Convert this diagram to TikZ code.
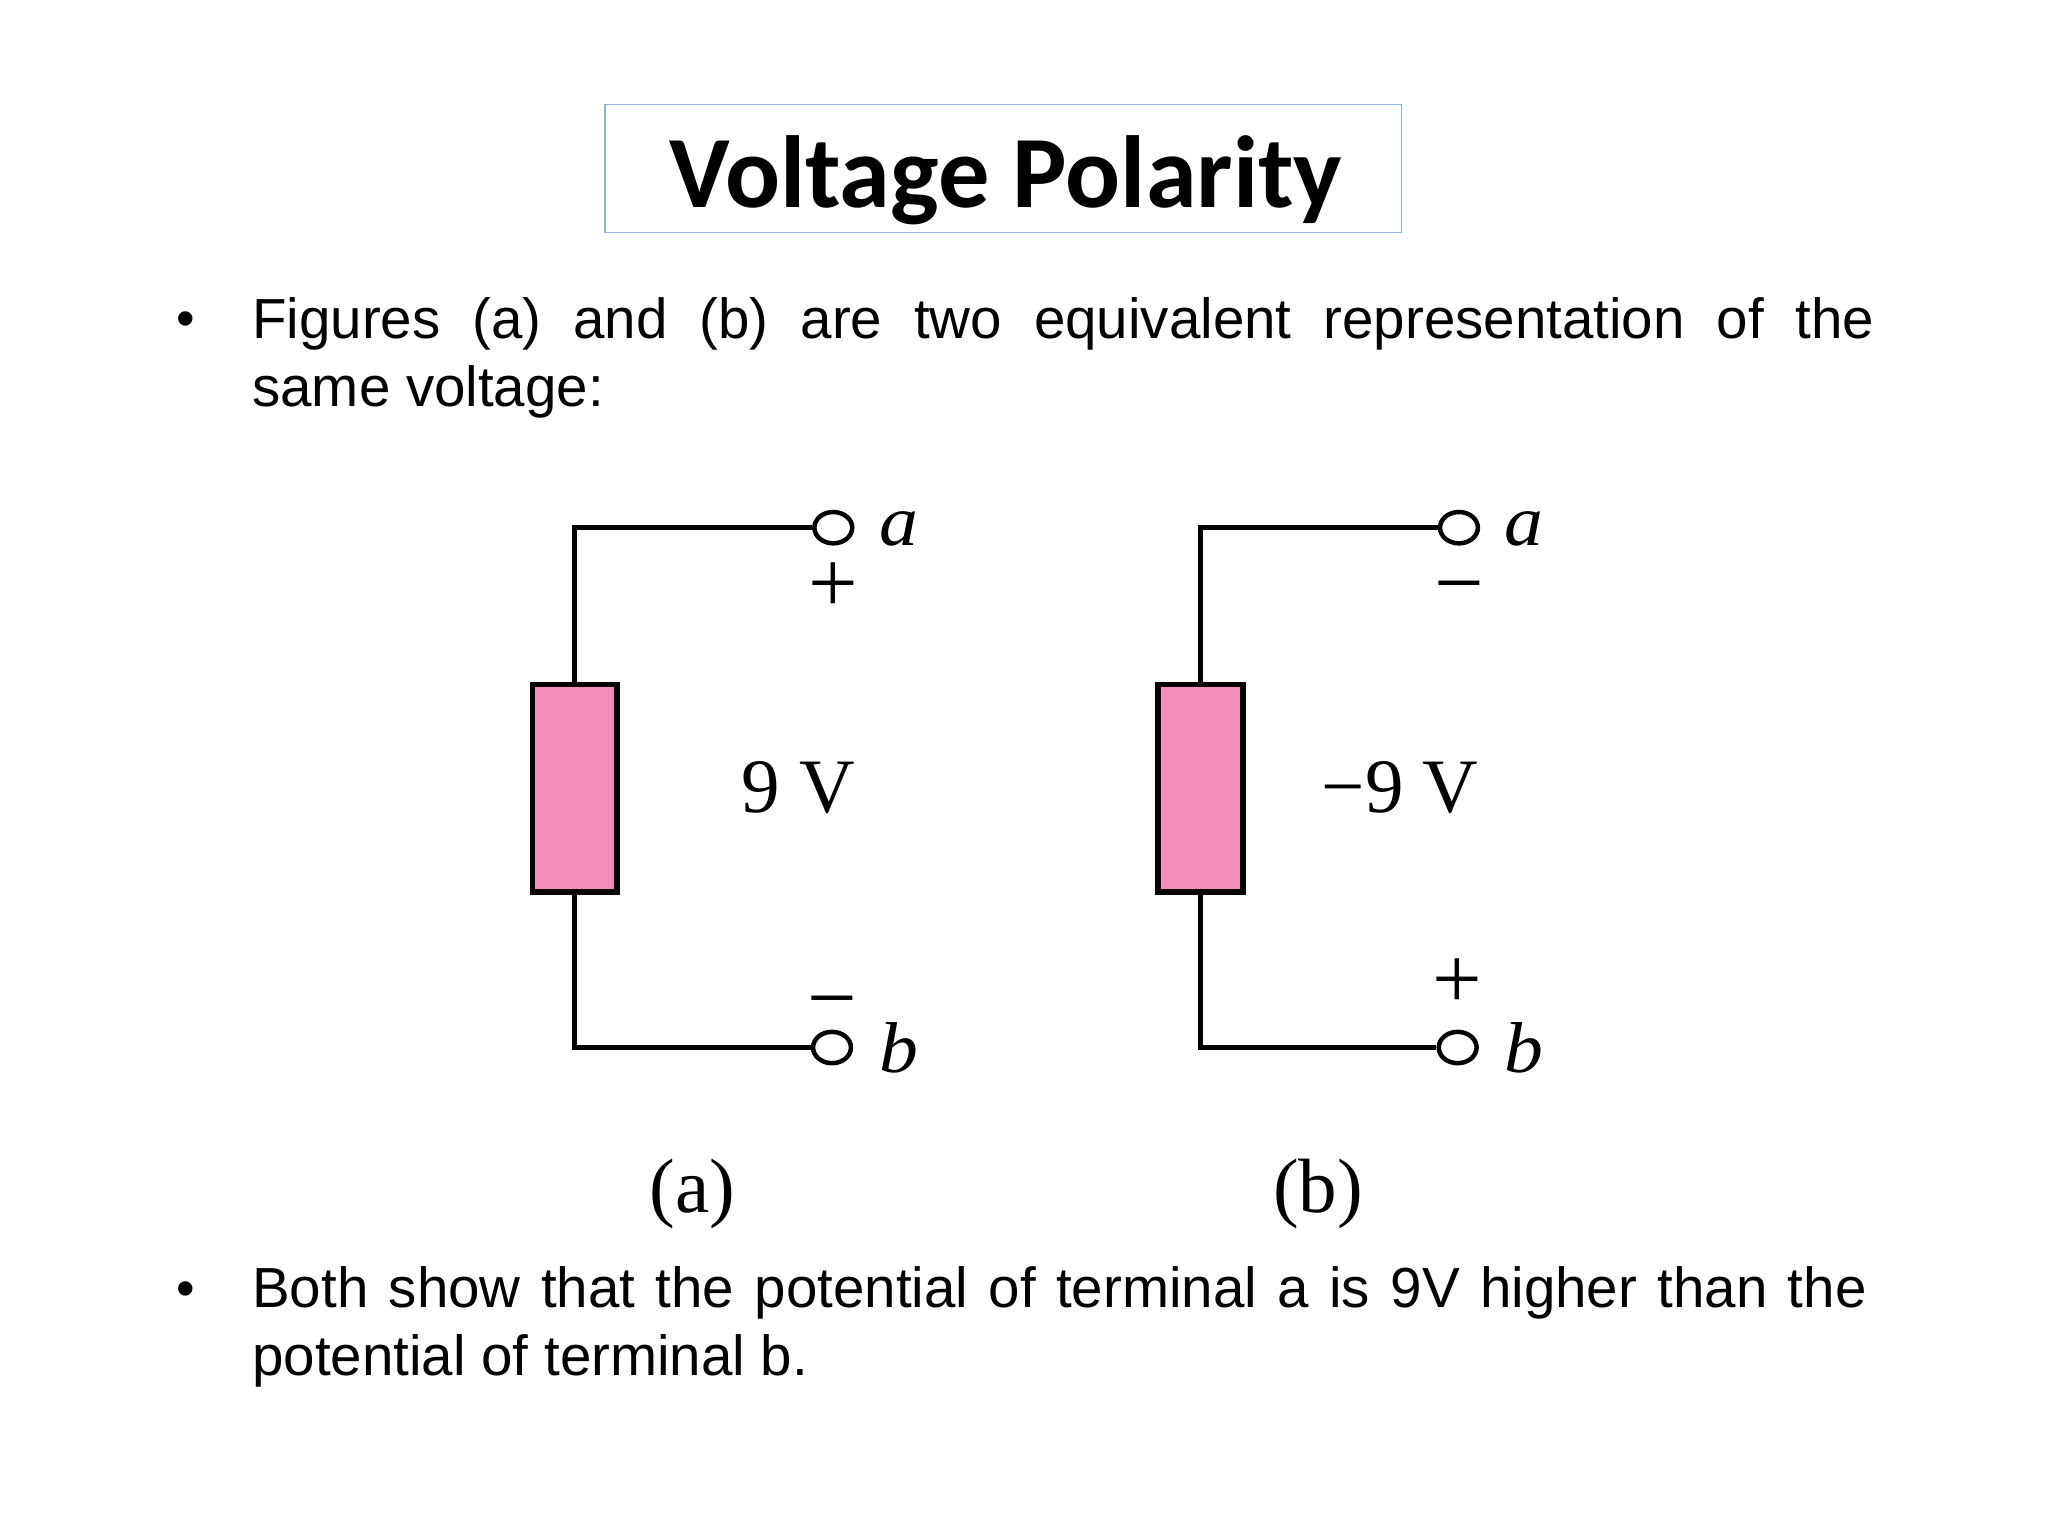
\documentclass[tikz,border=0pt]{standalone}
\usepackage{fontspec}
\setmainfont{Liberation Sans}
\newfontfamily\titlefont{Carlito}
\newfontfamily\figfont{Liberation Serif}
\usetikzlibrary{shapes.geometric}
\definecolor{boxblue}{HTML}{8FB4DE}
\definecolor{pinkfill}{HTML}{F28CB8}
\newlength{\wu}\setlength{\wu}{1.30612pt}
\newcommand{\stretched}[2]{\makebox[#1\wu][s]{#2}}
\tikzset{
  titlebox/.style={draw=boxblue,line width=1.8pt,fill=white,minimum width=610\wu,minimum height=98\wu,inner sep=0pt},
  titletext/.style={font=\titlefont\bfseries\fontsize{102.5}{102.5}\selectfont,inner sep=0pt},
  bodytext/.style={font=\fontsize{56.5}{56.5}\selectfont,anchor=base west,inner sep=0pt},
  bulletmark/.style={font=\fontsize{53}{53}\selectfont,anchor=base,inner sep=0pt},
  elem/.style={draw=black,fill=pinkfill,line width=5.5pt,minimum width=65\wu,minimum height=159\wu,inner sep=0pt},
  term/.style={draw=black,fill=white,ellipse,line width=4.5pt,minimum width=29\wu,minimum height=24\wu,inner sep=0pt},
  wire/.style={draw=black,line width=5pt},
  figlabel/.style={font=\figfont\fontsize{77}{77}\selectfont,anchor=base,inner sep=0pt},
  termlabel/.style={font=\figfont\itshape\fontsize{72}{72}\selectfont,anchor=base,inner sep=0pt,xscale=1.08,transform shape},
  polarity/.style={font=\figfont\fontsize{88}{88}\selectfont,anchor=base,inner sep=0pt}
}
\begin{document}
\begin{tikzpicture}[x=\wu,y=-\wu]
\useasboundingbox[fill=white] (0,0) rectangle (1568,1176);
\node[titlebox] (titlebox) at (768,129) {};
\node[titletext] (title) at (770,138) {Voltage Polarity};
\node[bulletmark] (b1) at (142,258) {•};
\node[bodytext] (l1) at (193,259) {\stretched{1242}{Figures (a) and (b) are two equivalent representation of the}};
\node[bodytext] (l2) at (193,311) {same voltage:};
\node[bulletmark] (b2) at (142,1000) {•};
\node[bodytext] (l3) at (193,1001) {\stretched{1236}{Both show that the potential of terminal a is 9V higher than the}};
\node[bodytext] (l4) at (193,1053) {potential of terminal b.};
% figure (a)
\node[elem] (ra) at (440,603.5) {};
\node[term] (ta) at (638,404) {};
\node[term] (tb) at (637,802) {};
\draw[wire] (ta.west) -| (ra.north);
\draw[wire] (tb.west) -| (ra.south);
\node[termlabel] (la) at (688,418) {a};
\node[termlabel] (lb) at (688,821) {b};
\node[polarity] (pa) at (638,469) {+};
\node[polarity] (ma) at (637,787) {−};
\node[figlabel] (va) at (611,622) {9 V};
\node[figlabel] (capa) at (530,928) {(a)};
% figure (b)
\node[elem] (rb) at (919,603.5) {};
\node[term] (tc) at (1117,404) {};
\node[term] (td) at (1116,802) {};
\draw[wire] (tc.west) -| (rb.north);
\draw[wire] (td.west) -| (rb.south);
\node[termlabel] (lc) at (1167,418) {a};
\node[termlabel] (ld) at (1167,821) {b};
\node[polarity] (mb) at (1117,469) {−};
\node[polarity] (pb) at (1116,772) {+};
\node[figlabel] (vb) at (1072,622) {−9 V};
\node[figlabel] (capb) at (1009,928) {(b)};
\end{tikzpicture}
\end{document}
